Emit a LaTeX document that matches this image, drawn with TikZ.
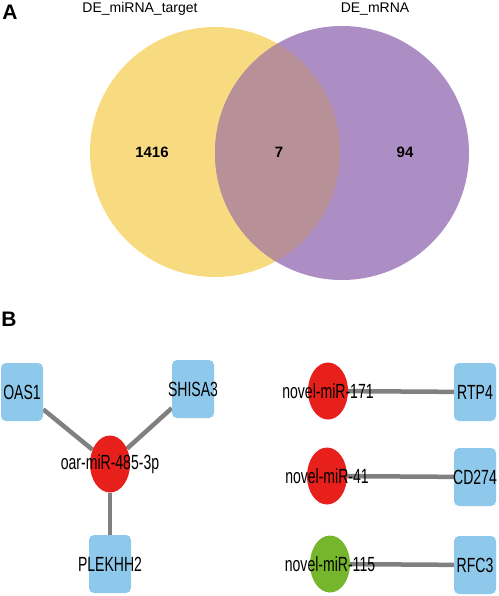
\documentclass[tikz,border=0pt]{standalone}
\usepackage{fontspec}
\setmainfont{Liberation Sans}
\newfontfamily\netfont[FakeStretch=0.685]{Liberation Sans}
\usetikzlibrary{
    positioning,
    shapes.geometric,
    backgrounds
}
\definecolor{vennY}{RGB}{248,218,128}
\definecolor{vennP}{RGB}{172,142,196}
\definecolor{vennX}{RGB}{184,144,152}
\definecolor{geneC}{RGB}{142,200,234}
\definecolor{upC}  {RGB}{232, 32, 28}
\definecolor{downC}{RGB}{118,182, 44}
\definecolor{edgeC}{RGB}{128,128,128}
\tikzset{
  gene/.style    = {fill=geneC, rounded corners=5pt, minimum width=42pt,
                    minimum height=58pt, inner sep=0pt},
  mirna/.style   = {ellipse, fill=upC, minimum width=40pt,
                    minimum height=57pt, inner sep=0pt},
  lbl/.style     = {font=\netfont\fontsize{20.5}{22}\selectfont, text=black},
  link/.style    = {draw=edgeC, line width=4.5pt},
  panel/.style   = {font=\fontsize{21}{23}\selectfont\bfseries},
  setname/.style = {font=\fontsize{14}{16}\selectfont},
  count/.style   = {font=\fontsize{15}{17}\selectfont\bfseries}
}

\begin{document}
\begin{tikzpicture}[x=1pt, y=-1pt]
  \useasboundingbox (0,0) rectangle (498,596);

  %% ── A: Venn ───────────────────────────────────────────────────
  \node[panel] (pa) at (10,12) {A};
  \fill[vennY] (215,152) circle (125pt);
  \fill[vennP] (342,153) circle (127pt);
  \begin{scope}
    \clip (215,152) circle (125pt);
    \fill[vennX] (342,153) circle (127pt);
  \end{scope}
  \node[setname] (tgt)  at (140,9) {DE\_miRNA\_target};
  \node[setname] (mrna) at (375,9) {DE\_mRNA};
  \node[count] (nleft)  at (152,152) {1416};
  \node[count] (nmid)   at (279,152) {7};
  \node[count] (nright) at (405,152) {94};

  %% ── B: network ────────────────────────────────────────────────
  \node[panel] (pb) at (9,319) {B};

  % oar-miR-485-3p and its targets
  \node[mirna, label={[lbl]center:oar-miR-485-3p}] (m485) at (110,464) {};
  \node[gene, label={[lbl]center:OAS1}]    (oas1)    at ( 22,392) {};
  \node[gene, label={[lbl]center:SHISA3}]  (shisa3)  at (193,389) {};
  \node[gene, label={[lbl]center:PLEKHH2}] (plekhh2) at (110,564) {};

  % novel miRNAs
  \node[mirna, label={[lbl]center:novel-miR-171}] (m171) at (328,391) {};
  \node[mirna, label={[lbl]center:novel-miR-41}]  (m41)  at (327,476) {};
  \node[mirna, fill=downC, label={[lbl]center:novel-miR-115}] (m115) at (330,564) {};
  \node[gene, label={[lbl]center:RTP4}]  (rtp4)  at (475,392) {};
  \node[gene, label={[lbl]center:CD274}] (cd274) at (475,477) {};
  \node[gene, label={[lbl]center:RFC3}]  (rfc3)  at (475,565) {};

  \begin{scope}[on background layer]
    \draw[link] (oas1) -- (m485);
    \draw[link] (shisa3) -- (m485);
    \draw[link] (plekhh2) -- (m485);
    \draw[link] (m171) -- (rtp4);
    \draw[link] (m41) -- (cd274);
    \draw[link] (m115) -- (rfc3);
  \end{scope}

\end{tikzpicture}
\end{document}
